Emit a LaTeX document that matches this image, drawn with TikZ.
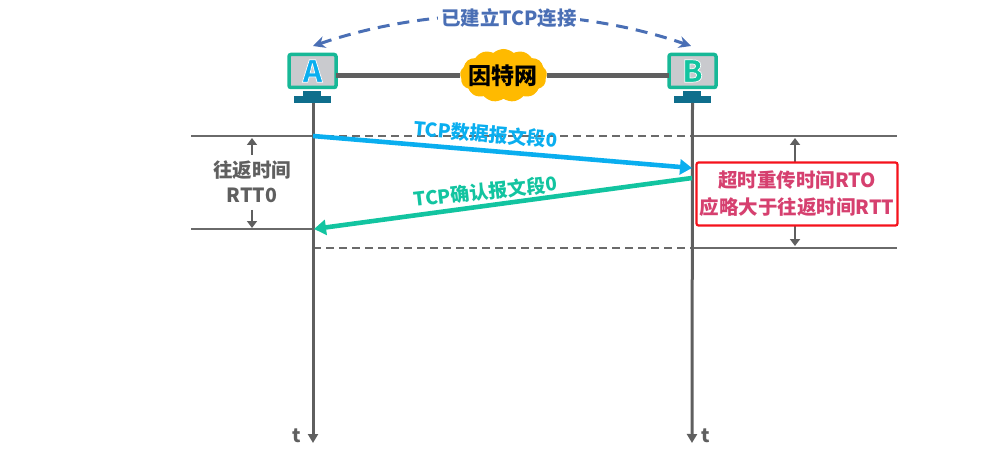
\documentclass[tikz,border=0pt]{standalone}
\usepackage{fontspec}
\setmainfont{Noto Sans CJK SC}
\usetikzlibrary{arrows.meta,shapes.symbols}
\definecolor{teal1}{HTML}{17B897}
\definecolor{screen}{HTML}{C9CACE}
\definecolor{stand}{HTML}{0F6E8C}
\definecolor{axisgray}{HTML}{5F5F5F}
\definecolor{linegray}{HTML}{6A6A6A}
\definecolor{dashblue}{HTML}{4A6FB5}
\definecolor{segblue}{HTML}{0AAEEF}
\definecolor{seggreen}{HTML}{12C4A0}
\definecolor{cloudy}{HTML}{FFBA00}
\definecolor{boxred}{HTML}{F5121C}
\definecolor{rosetext}{HTML}{D6406F}
\newcommand{\haloed}[1]{\special{pdf:code 2 Tr 1 1 1 RG 0.7 w}#1\special{pdf:code 0 Tr}}
\tikzset{
 x=1pt,y=-1pt,
 every node/.style={font=\bfseries,inner sep=0pt,outer sep=0pt},
 monitor/.style={draw=teal1,line width=3.5pt,fill=screen,rounded corners=2pt,minimum width=47pt,minimum height=33pt},
 standtop/.style={fill=stand,minimum width=18pt,minimum height=5.5pt},
 standbase/.style={fill=stand,minimum width=37pt,minimum height=7pt},
 axisline/.style={draw=axisgray,line width=3pt,-{Triangle[length=9pt,width=10pt]}},
 netline/.style={draw=axisgray,line width=4.5pt},
 guide/.style={draw=linegray,line width=1.4pt},
 guidedash/.style={guide,dash pattern=on 8pt off 5pt},
 dimarrow/.style={draw=axisgray,line width=2.6pt,-{Triangle[length=7pt,width=10pt]}},
 segdata/.style={draw=segblue,line width=4.6pt,-{Triangle[length=12pt,width=15pt]}},
 segack/.style={draw=seggreen,line width=4.6pt,-{Triangle[length=12pt,width=15pt]}},
 gray label/.style={text=axisgray,font=\bfseries\fontsize{19.5}{23}\selectfont},
}
\begin{document}
\begin{tikzpicture}
\useasboundingbox (0,0) rectangle (982,457);
% free ends
\coordinate (la) at (191,136);
\coordinate (lb) at (191,229);
\coordinate (ra) at (897,136);
\coordinate (rb) at (897,248);
\coordinate (A1) at (313,136);
\coordinate (B1) at (692,136);
\coordinate (A2) at (313,229);
\coordinate (A3) at (313,248);
\coordinate (B3) at (692,248);
\coordinate (dataS) at (313,136);
\coordinate (dataE) at (692,168);
\coordinate (ackS) at (692,178);
\coordinate (ackE) at (314,229);
\coordinate (tA) at (313,443);
\coordinate (tB) at (692,443);
\coordinate (arcA) at (313,46);
\coordinate (arcB) at (691,46);
\coordinate (up1) at (252,155);
\coordinate (up2) at (252,138);
\coordinate (dn1) at (252,210);
\coordinate (dn2) at (252,228);
\coordinate (rtoT) at (795,138);
\coordinate (rtoB) at (795,246);
% guides
\draw[guide] (la) -- (A1);
\draw[guide] (lb) -- (A2);
\draw[guide] (B1) -- (ra);
\draw[guide] (B3) -- (rb);
\draw[guidedash] (A1) -- (B1);
\draw[guidedash] (A3) -- (B3);
% stations
\node[standtop] (sta) at (312,93.5) {};
\node[standbase] (sba) at (312.5,99.5) {};
\node[standtop] (stb) at (692,93.5) {};
\node[standbase] (sbb) at (692.5,99.5) {};
\draw[axisline] (sba.south) ++(0.5,0) coordinate (a0) -- (tA);
\draw[axisline] (sbb.south) coordinate (b0) -- (tB);
\node[monitor] (A) at (312.5,71) {\fontsize{30}{30}\selectfont\textcolor{segblue}{\haloed{A}}};
\node[monitor] (B) at (692.5,71) {\fontsize{30}{30}\selectfont\textcolor{seggreen}{\haloed{B}}};
\node[shape=cloud,cloud puffs=13,cloud puff arc=85,aspect=1.7,fill=cloudy,minimum width=87pt,minimum height=53pt] (net) at (503.5,75.5) {};
\node[text=black,font=\bfseries\fontsize{23}{23}\selectfont] (netlabel) at (503,76) {因特网};
\draw[netline] (A.east |- net.west) -- (net.west);
\draw[netline] (net.east) -- (B.west |- net.east);
% established connection
\draw[draw=dashblue,line width=3pt,dash pattern=on 12pt off 8pt,{Stealth[length=12pt,width=12pt]}-{Stealth[length=12pt,width=12pt]}] (arcA) .. controls (433,5) and (571,5) .. (arcB);
\node[fill=white,text=dashblue,inner xsep=3pt,inner ysep=1pt,font=\bfseries\fontsize{19.5}{22}\selectfont] (conn) at (509,18) {已建立TCP连接};
% segments
\draw[segdata] (dataS) -- (dataE);
\draw[segack] (ackS) -- (ackE);
\node[text=segblue,rotate=-4.8,font=\bfseries\fontsize{19}{22}\selectfont] (datal) at (485.5,134) {TCP数据报文段0};
\node[text=seggreen,rotate=6.5,font=\bfseries\fontsize{19}{22}\selectfont] (ackl) at (485.5,191.5) {TCP确认报文段0};
% RTT0
\node[gray label] (rttz) at (252,170) {往返时间};
\node[gray label] (rttn) at (252,195) {RTT0};
\draw[dimarrow] (up1) -- (up2);
\draw[dimarrow] (dn1) -- (dn2);
% RTO
\draw[dimarrow,{Triangle[length=7pt,width=10pt]}-{Triangle[length=7pt,width=10pt]}] (rtoT) -- (rtoB);
\node[draw=boxred,line width=2.2pt,fill=white,rounded corners=2pt,minimum width=201pt,minimum height=63pt,align=center,text=rosetext,font=\bfseries\fontsize{19.5}{27}\selectfont] (rto) at (797,194) {超时重传时间RTO\\应略大于往返时间RTT};
% t labels
\node[text=axisgray,font=\bfseries\fontsize{19}{20}\selectfont] (ta) at (297,436) {t};
\node[text=axisgray,font=\bfseries\fontsize{19}{20}\selectfont] (tb) at (706,436) {t};
\end{tikzpicture}
\end{document}
